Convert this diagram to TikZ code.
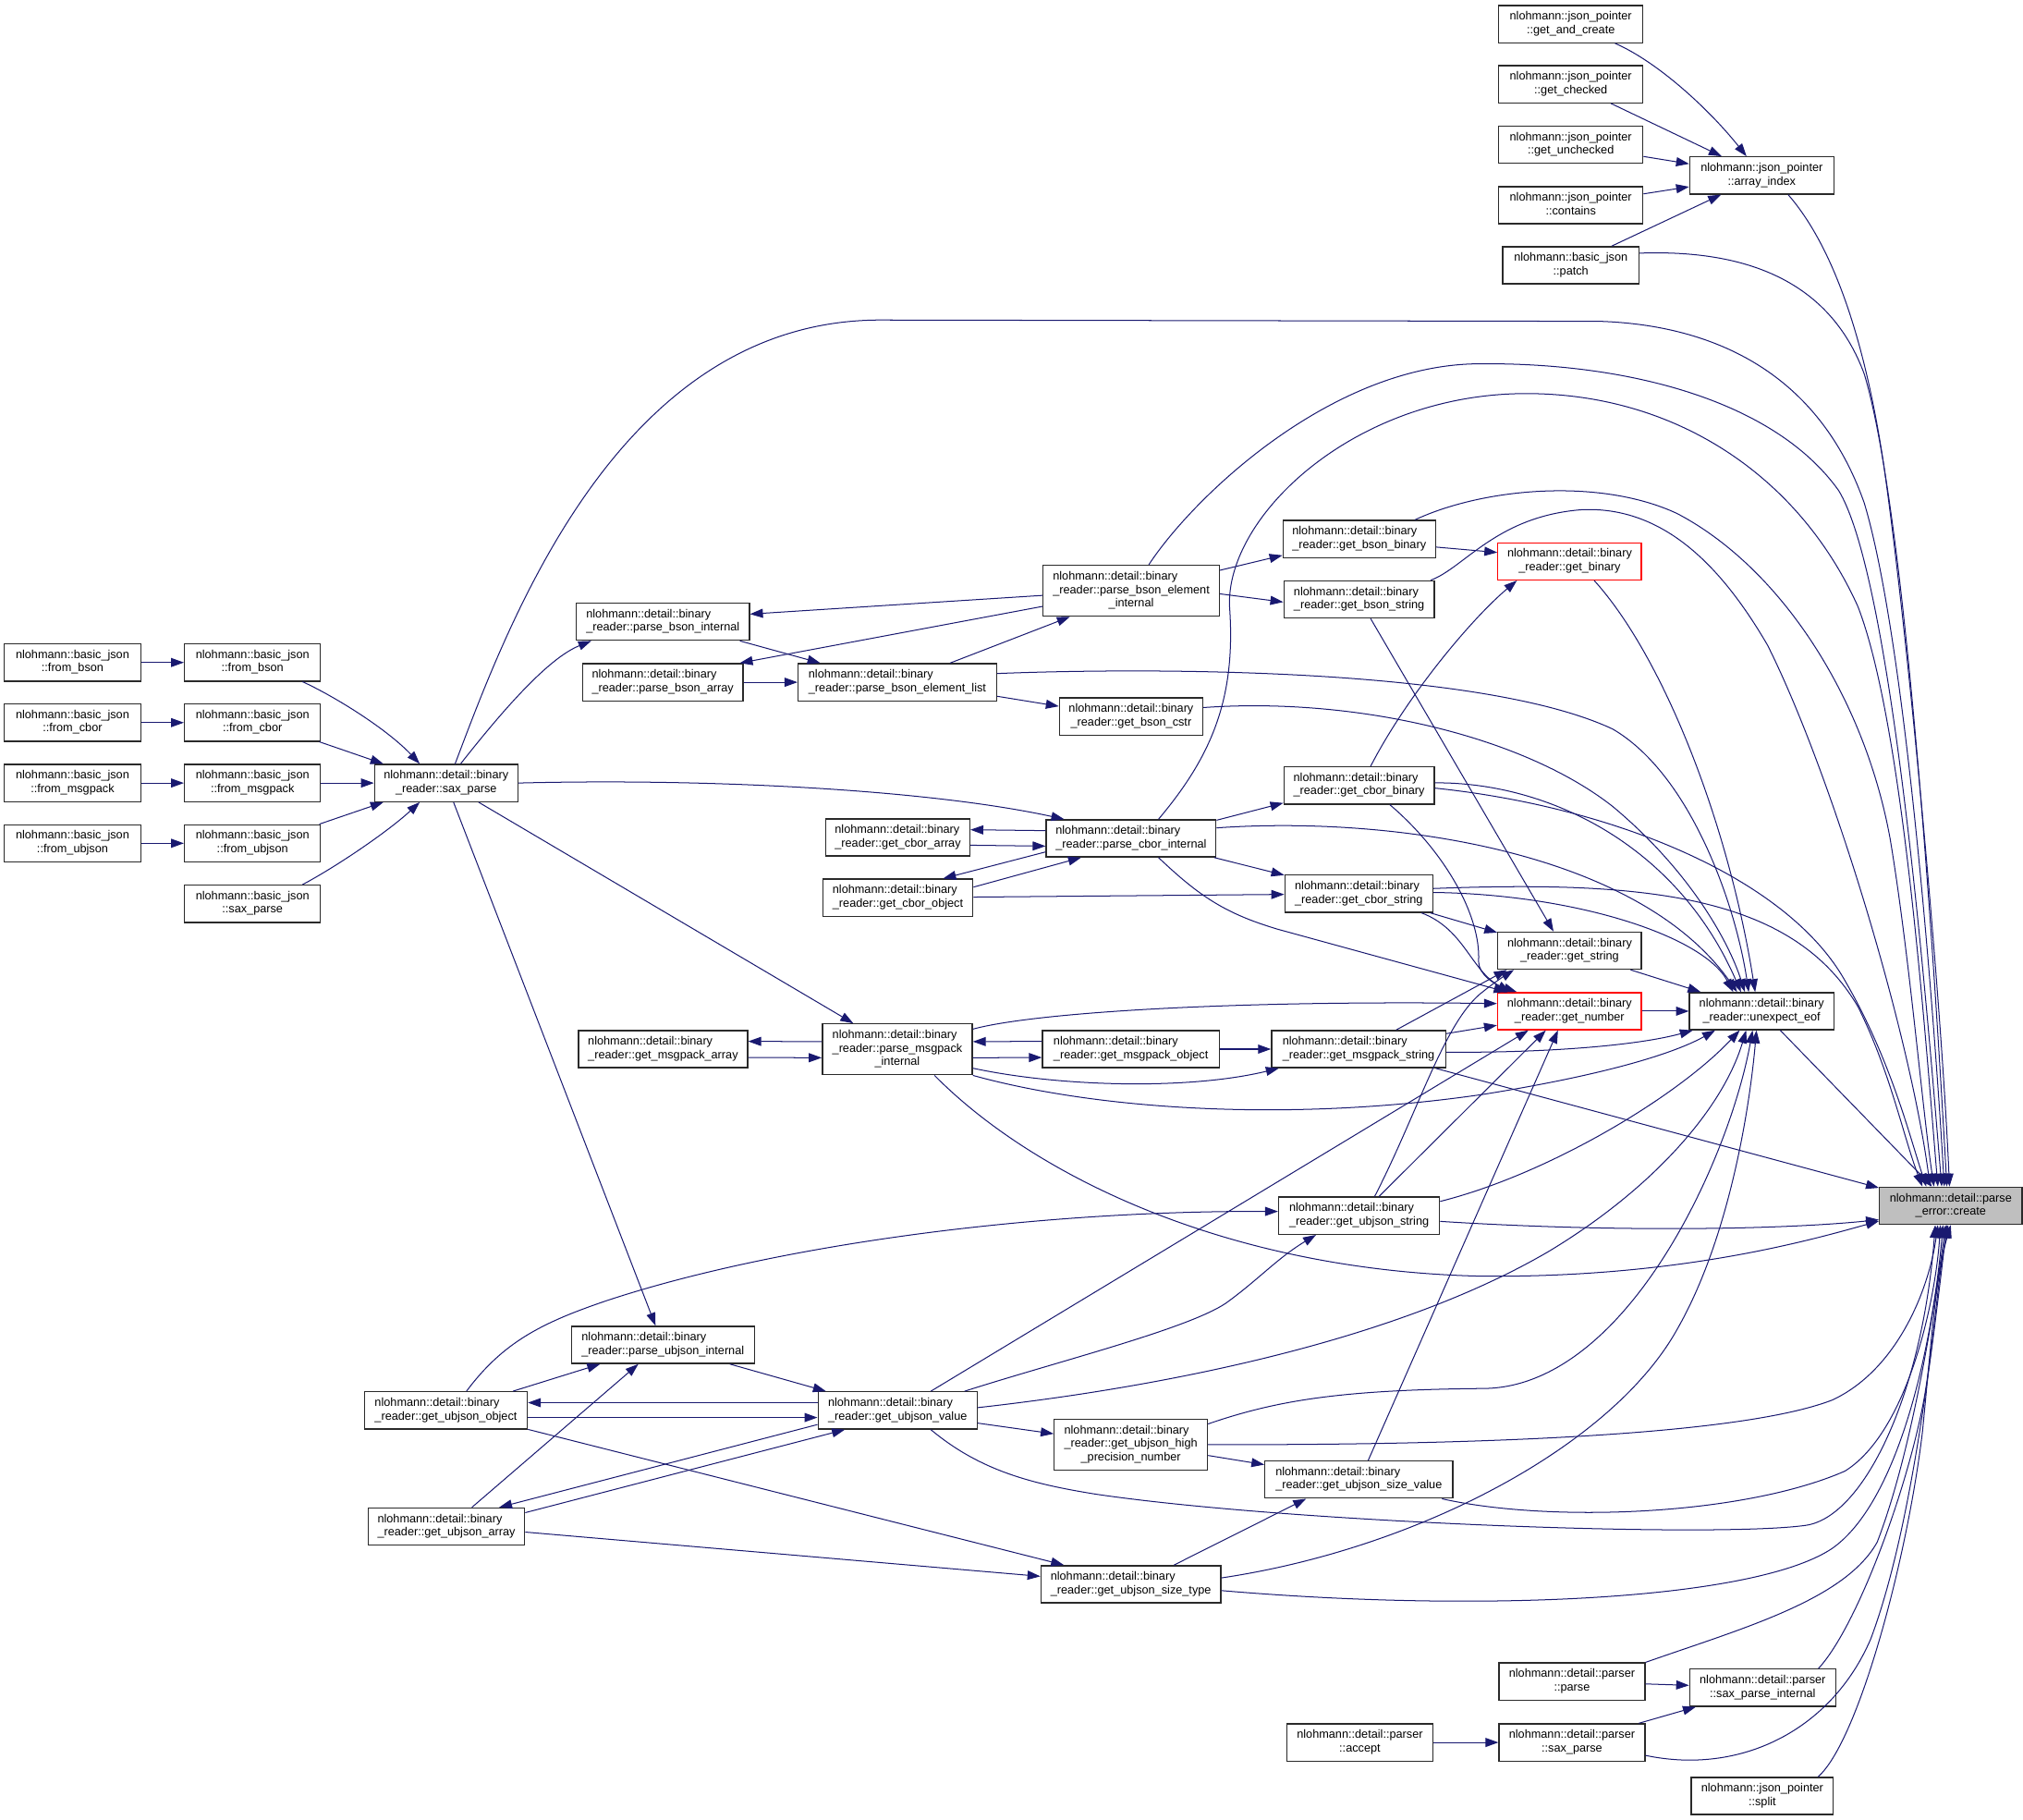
\documentclass[tikz,border=0pt]{standalone}
\usepackage{fontspec}
\setmainfont{Liberation Sans}
\usetikzlibrary{arrows.meta}
\definecolor{edgeblue}{HTML}{191970}
\definecolor{rootgray}{HTML}{BFBFBF}
\definecolor{boxline}{HTML}{2A2A2A}
\newcommand{\twol}[2]{\begin{tabular}{@{}l@{}}#1\\\multicolumn{1}{@{}c@{}}{#2}\end{tabular}}
\newcommand{\threel}[3]{\begin{tabular}{@{}l@{}}#1\\#2\\\multicolumn{1}{@{}c@{}}{#3}\end{tabular}}
\newcommand{\nlb}{nlohmann::detail::binary}
\tikzset{
  nbox/.style={draw=boxline, line width=0.95pt, fill=white, font=\fontsize{9.1}{10.4}\selectfont,
    inner xsep=2pt, inner ysep=0pt, minimum height=28.8pt, anchor=center},
  nbox3/.style={nbox, minimum height=39.4pt},
  redbox/.style={nbox, draw=red},
  rootbox/.style={nbox, fill=rootgray},
  conn/.style={draw=edgeblue, line width=0.72pt, -{Triangle[length=10pt,width=7pt]}}
}
\begin{document}
\begin{tikzpicture}[x=1pt,y=-1pt]
\fill[white] (0,0) rectangle (1568,1410.4);
\useasboundingbox (0,0) rectangle (1568,1410.4);

% ---------- nodes ----------
\node[nbox, minimum width=111.8pt] (n_gac) at (1217.5,18.7) {\twol{nlohmann::json\_pointer}{::get\_and\_create}};
\node[nbox, minimum width=111.8pt] (n_gch) at (1217.5,65.3) {\twol{nlohmann::json\_pointer}{::get\_checked}};
\node[nbox, minimum width=111.8pt] (n_gun) at (1217.5,112.2) {\twol{nlohmann::json\_pointer}{::get\_unchecked}};
\node[nbox, minimum width=111.8pt] (n_con) at (1217.5,159) {\twol{nlohmann::json\_pointer}{::contains}};
\node[nbox, minimum width=105.8pt] (n_pat) at (1217.5,205.6) {\twol{nlohmann::basic\_json}{::patch}};
\node[nbox, minimum width=111.7pt] (n_aix) at (1365.5,136) {\twol{nlohmann::json\_pointer}{::array\_index}};
\node[rootbox, minimum width=110.5pt] (n_cre) at (1512,934.4) {\twol{nlohmann::detail::parse}{\_error::create}};
\node[nbox, minimum width=111.8pt] (n_uef) at (1365.4,783.6) {\twol{\nlb}{\_reader::unexpect\_eof}};
\node[redbox, minimum width=111.5pt] (n_gnum) at (1216.5,783.6) {\twol{\nlb}{\_reader::get\_number}};
\node[nbox, minimum width=111.2pt] (n_gstr) at (1216.6,736.7) {\twol{\nlb}{\_reader::get\_string}};
\node[redbox, minimum width=111.2pt] (n_gbin) at (1216.6,435) {\twol{\nlb}{\_reader::get\_binary}};
\node[nbox, minimum width=118.1pt] (n_gbb) at (1053.5,417.7) {\twol{\nlb}{\_reader::get\_bson\_binary}};
\node[nbox, minimum width=116.6pt] (n_gbs) at (1053.4,464.5) {\twol{\nlb}{\_reader::get\_bson\_string}};
\node[nbox3, minimum width=136.6pt] (n_pbei) at (876.8,457.8) {\threel{\nlb}{\_reader::parse\_bson\_element}{\_internal}};
\node[nbox, minimum width=111.1pt] (n_gbc) at (876.7,555.2) {\twol{\nlb}{\_reader::get\_bson\_cstr}};
\node[nbox, minimum width=116.6pt] (n_gcb) at (1053.4,608.7) {\twol{\nlb}{\_reader::get\_cbor\_binary}};
\node[nbox, minimum width=131.6pt] (n_pci) at (876.7,649.7) {\twol{\nlb}{\_reader::parse\_cbor\_internal}};
\node[nbox, minimum width=114.7pt] (n_gcs) at (1053.2,692.6) {\twol{\nlb}{\_reader::get\_cbor\_string}};
\node[nbox, minimum width=134.1pt] (n_pbi) at (513.8,481.8) {\twol{\nlb}{\_reader::parse\_bson\_internal}};
\node[nbox, minimum width=124.3pt] (n_pba) at (513.7,528.7) {\twol{\nlb}{\_reader::parse\_bson\_array}};
\node[nbox, minimum width=153.8pt] (n_pbel) at (695.5,528.7) {\twol{\nlb}{\_reader::parse\_bson\_element\_list}};
\node[nbox, minimum width=111.5pt] (n_gca) at (695.9,649) {\twol{\nlb}{\_reader::get\_cbor\_array}};
\node[nbox, minimum width=116.3pt] (n_gco) at (695.9,695.7) {\twol{\nlb}{\_reader::get\_cbor\_object}};
\node[nbox, minimum width=105.6pt] (n_fb1) at (56.2,513.4) {\twol{nlohmann::basic\_json}{::from\_bson}};
\node[nbox, minimum width=105.6pt] (n_fc1) at (56.2,560) {\twol{nlohmann::basic\_json}{::from\_cbor}};
\node[nbox, minimum width=105.6pt] (n_fm1) at (56.2,606.8) {\twol{nlohmann::basic\_json}{::from\_msgpack}};
\node[nbox, minimum width=105.6pt] (n_fu1) at (56.2,653.5) {\twol{nlohmann::basic\_json}{::from\_ubjson}};
\node[nbox, minimum width=105.4pt] (n_fb2) at (195.7,513.4) {\twol{nlohmann::basic\_json}{::from\_bson}};
\node[nbox, minimum width=105.4pt] (n_fc2) at (195.7,560) {\twol{nlohmann::basic\_json}{::from\_cbor}};
\node[nbox, minimum width=105.4pt] (n_fm2) at (195.7,606.8) {\twol{nlohmann::basic\_json}{::from\_msgpack}};
\node[nbox, minimum width=105.4pt] (n_fu2) at (195.7,653.5) {\twol{nlohmann::basic\_json}{::from\_ubjson}};
\node[nbox, minimum width=105.4pt] (n_bsp) at (195.7,700.4) {\twol{nlohmann::basic\_json}{::sax\_parse}};
\node[nbox, minimum width=111pt] (n_sp) at (345.8,606.8) {\twol{\nlb}{\_reader::sax\_parse}};
\node[nbox, minimum width=131.1pt] (n_gma) at (513.9,813) {\twol{\nlb}{\_reader::get\_msgpack\_array}};
\node[nbox3, minimum width=116.2pt] (n_pmi) at (695.5,813.2) {\threel{\nlb}{\_reader::parse\_msgpack}{\_internal}};
\node[nbox, minimum width=137pt] (n_gmo) at (876.5,813) {\twol{\nlb}{\_reader::get\_msgpack\_object}};
\node[nbox, minimum width=134.9pt] (n_gms) at (1053,813) {\twol{\nlb}{\_reader::get\_msgpack\_string}};
\node[nbox, minimum width=124.7pt] (n_gus) at (1053.4,942.1) {\twol{\nlb}{\_reader::get\_ubjson\_string}};
\node[nbox3, minimum width=118.8pt] (n_ghp) at (876.5,1119.5) {\threel{\nlb}{\_reader::get\_ubjson\_high}{\_precision\_number}};
\node[nbox, minimum width=145.5pt] (n_gsv) at (1053.2,1146.6) {\twol{\nlb}{\_reader::get\_ubjson\_size\_value}};
\node[nbox, minimum width=139.3pt] (n_gst) at (876.5,1227.7) {\twol{\nlb}{\_reader::get\_ubjson\_size\_type}};
\node[nbox, minimum width=141.8pt] (n_pui) at (513.8,1042.2) {\twol{\nlb}{\_reader::parse\_ubjson\_internal}};
\node[nbox, minimum width=126.2pt] (n_guo) at (345.6,1093) {\twol{\nlb}{\_reader::get\_ubjson\_object}};
\node[nbox, minimum width=123.3pt] (n_guv) at (695.7,1093) {\twol{\nlb}{\_reader::get\_ubjson\_value}};
\node[nbox, minimum width=121.3pt] (n_gua) at (346,1183) {\twol{\nlb}{\_reader::get\_ubjson\_array}};
\node[nbox, minimum width=113.1pt] (n_ppa) at (1218.4,1303.1) {\twol{nlohmann::detail::parser}{::parse}};
\node[nbox, minimum width=113.1pt] (n_spi) at (1366.2,1307.9) {\twol{nlohmann::detail::parser}{::sax\_parse\_internal}};
\node[nbox, minimum width=113.5pt] (n_acc) at (1054,1350.3) {\twol{nlohmann::detail::parser}{::accept}};
\node[nbox, minimum width=113.1pt] (n_psp) at (1218.4,1350.3) {\twol{nlohmann::detail::parser}{::sax\_parse}};
\node[nbox, minimum width=110.2pt] (n_spl) at (1365.9,1391.8) {\twol{nlohmann::json\_pointer}{::split}};

% ---------- json_pointer group ----------
\draw[conn] (n_gac) .. controls (1285,48) and (1325,85) .. (n_aix);
\draw[conn] (n_gch) -- (n_aix);
\draw[conn] (n_gun) -- (n_aix);
\draw[conn] (n_con) -- (n_aix);
\draw[conn] (n_pat) -- (n_aix);

% ---------- into create from above ----------
\draw[conn] (n_aix.-36) .. controls (1420,190) and (1445,260) .. (1460,360) .. controls (1480,500) and (1505,780) .. ([xshift=-1pt]n_cre.north);
\draw[conn] (n_pat.10) .. controls (1360,193) and (1420,222) .. (1445,290) .. controls (1478,400) and (1500,760) .. ([xshift=-3pt]n_cre.north);
\draw[conn] (n_sp.65) .. controls (395,480) and (480,250) .. (680,248) -- (1240,249) .. controls (1330,252) and (1410,290) .. (1445,390) .. controls (1478,500) and (1500,800) .. ([xshift=-5pt]n_cre.north);
\draw[conn] (n_pbei.56) .. controls (925,385) and (1030,285) .. (1142,282) .. controls (1260,280) and (1375,310) .. (1425,380) .. controls (1468,450) and (1495,800) .. ([xshift=-7pt]n_cre.north);
\draw[conn] (n_pci.35) .. controls (940,585) and (958,540) .. (953,470) .. controls (950,400) and (1050,305) .. (1183,305) .. controls (1300,305) and (1395,370) .. (1440,470) .. controls (1475,560) and (1492,800) .. ([xshift=-10pt]n_cre.north);
\draw[conn] (n_gbb.19) .. controls (1150,378) and (1240,370) .. (1300,398) .. controls (1380,440) and (1445,540) .. (1465,650) .. controls (1480,740) and (1490,860) .. ([xshift=-13pt]n_cre.north);
\draw[conn] (n_gbs.15.5) .. controls (1135,440) and (1160,400) .. (1226,395) .. controls (1290,392) and (1335,440) .. (1370,500) .. controls (1420,600) and (1480,800) .. ([xshift=-16pt]n_cre.north);
\draw[conn] (n_gcb.-2) .. controls (1250,625) and (1385,680) .. (1430,760) .. controls (1465,820) and (1480,880) .. ([xshift=-19pt]n_cre.north);
\draw[conn] (n_gcs.4) .. controls (1280,682) and (1390,695) .. (1440,780) .. controls (1465,830) and (1475,880) .. ([xshift=-22pt]n_cre.north);

% ---------- into unexpect_eof from above ----------
\draw[conn] (n_gbin.-38) .. controls (1290,510) and (1340,640) .. ([xshift=-5pt]n_uef.north);
\draw[conn] (n_pbel.5) .. controls (900,517) and (1150,518) .. (1250,565) .. controls (1310,600) and (1345,700) .. ([xshift=-10pt]n_uef.north);
\draw[conn] (n_gbc.7.7) .. controls (1050,540) and (1180,570) .. (1250,625) .. controls (1310,675) and (1340,730) .. ([xshift=-13pt]n_uef.north);
\draw[conn] (n_gcb.2) .. controls (1200,606) and (1300,655) .. ([xshift=-16pt]n_uef.north);
\draw[conn] (n_pci.7.5) .. controls (1080,632) and (1270,660) .. ([xshift=-19pt]n_uef.north);
\draw[conn] (n_gcs.1) .. controls (1220,693) and (1320,725) .. ([xshift=-22pt]n_uef.north);
\draw[conn] (n_gstr) -- (n_uef);
\draw[conn] (n_gnum) -- (n_uef);
\draw[conn] (n_uef) -- (n_cre);

% ---------- into unexpect_eof from below ----------
\draw[conn] (n_gms.-2) .. controls (1200,816) and (1270,810) .. ([xshift=3pt]n_uef.south west);
\draw[conn] (n_pmi.south east) .. controls (850,860) and (1000,870) .. (1150,848) .. controls (1250,832) and (1300,815) .. ([xshift=-36pt]n_uef.south);
\draw[conn] (n_gus.10) .. controls (1200,910) and (1300,850) .. ([xshift=-17pt]n_uef.south);
\draw[conn] (n_guv.2) .. controls (900,1075) and (1080,1040) .. (1200,970) .. controls (1280,922) and (1335,860) .. ([xshift=-12pt]n_uef.south);
\draw[conn] (n_ghp.15.5) .. controls (990,1085) and (1040,1077) .. (1150,1076) .. controls (1260,1075) and (1340,900) .. ([xshift=-7pt]n_uef.south);
\draw[conn] (n_gst.4) .. controls (1100,1200) and (1250,1120) .. (1300,1030) .. controls (1340,960) and (1356,860) .. ([xshift=-4pt]n_uef.south);

% ---------- into get_number ----------
\draw[conn] (n_pmi.15) .. controls (800,785) and (950,775) .. (n_gnum.174);
\draw[conn] (n_gms.10) -- (n_gnum.191.5);
\draw[conn] (n_gcb.-32) .. controls (1120,660) and (1148,710) .. (1146,745) .. controls (1146,755) and (1158,763) .. (n_gnum.160.6);
\draw[conn] (n_gcs.-17) .. controls (1135,720) and (1140,752) .. (n_gnum.162);
\draw[conn] (n_pci.-35) .. controls (930,695) and (950,708) .. (990,720) -- (n_gnum.163.5);
\draw[conn] (n_guv.30) -- (n_gnum.205);
\draw[conn] (n_gus.44) -- (n_gnum.219);
\draw[conn] (n_gsv.64) -- (n_gnum.239);

% ---------- into get_string ----------
\draw[conn] (n_gbs.-59) -- (n_gstr.130);
\draw[conn] (n_gcs.-15) -- (n_gstr.166);
\draw[conn] (n_gms.27) -- (n_gstr.197);
\draw[conn] (n_gus.51) .. controls (1100,860) and (1120,790) .. (1150,768) .. controls (1160,760) and (1168,755) .. (n_gstr.199);

% ---------- into get_binary ----------
\draw[conn] (n_gbb.-6) -- (n_gbin.173);
\draw[conn] (n_gcb.59) .. controls (1090,540) and (1140,480) .. (n_gbin.200);

% ---------- bson ----------
\draw[conn] (n_pbei.13) -- (n_gbb.192);
\draw[conn] (n_pbei.-2) -- (n_gbs.182);
\draw[conn] (n_pbei.183) -- (n_pbi.5);
\draw[conn] (n_pbei.190) -- (n_pba.14);
\draw[conn] (n_pbel.20) -- (n_pbei.203);
\draw[conn] (n_pbi.-14.4) -- (n_pbel.166);
\draw[conn] (n_pba) -- (n_pbel);
\draw[conn] (n_pbel.-8) -- (n_gbc.172);

% ---------- sax_parse ----------
\draw[conn] (n_sp.53) .. controls (390,550) and (425,510) .. (n_pbi.195);
\draw[conn] (n_sp.east) .. controls (550,603) and (720,612) .. (n_pci.164);
\draw[conn] (n_sp) -- (n_pmi);
\draw[conn] (n_sp) -- (n_pui);
\draw[conn] (n_fb1) -- (n_fb2);
\draw[conn] (n_fc1) -- (n_fc2);
\draw[conn] (n_fm1) -- (n_fm2);
\draw[conn] (n_fu1) -- (n_fu2);
\draw[conn] (n_fb2.-21.5) .. controls (260,540) and (300,565) .. (n_sp.144);
\draw[conn] (n_fc2.-16.8) -- (n_sp.163);
\draw[conn] (n_fm2) -- (n_sp);
\draw[conn] (n_fu2.16.8) -- (n_sp.197);
\draw[conn] (n_bsp.21.5) .. controls (260,672) and (300,645) .. (n_sp.216);

% ---------- cbor ----------
\draw[conn] ([yshift=6pt]n_pci.west) -- ([yshift=6pt]n_gca.east);
\draw[conn] ([yshift=-6pt]n_gca.east) -- ([yshift=-6pt]n_pci.west);
\draw[conn] (n_pci.189) -- (n_gco.23);
\draw[conn] (n_gco.8.5) -- (n_pci.201.6);
\draw[conn] (n_pci.12) -- (n_gcb.193.5);
\draw[conn] (n_pci.-13.3) -- (n_gcs.166.5);
\draw[conn] (n_gco) -- (n_gcs);

% ---------- msgpack ----------
\draw[conn] ([yshift=6pt]n_pmi.west) -- ([yshift=6pt]n_gma.east);
\draw[conn] ([yshift=-6.5pt]n_gma.east) -- ([yshift=-6.5pt]n_pmi.west);
\draw[conn] ([yshift=6pt]n_gmo.west) -- ([yshift=6pt]n_pmi.east);
\draw[conn] ([yshift=-6.5pt]n_pmi.east) -- ([yshift=-6.5pt]n_gmo.west);
\draw[conn] (n_gmo) -- (n_gms);
\draw[conn] (n_pmi.-14.8) .. controls (820,842) and (920,845) .. (n_gms);
\draw[conn] (n_pmi.-35) .. controls (800,910) and (950,985) .. (1150,989) .. controls (1300,990) and (1400,962) .. (n_cre.192);
\draw[conn] (n_gms.-14.4) -- (n_cre.166);
\draw[conn] (n_gus.-4) .. controls (1250,955) and (1380,953) .. (n_cre.191);

% ---------- ubjson ----------
\draw[conn] (n_pui.-16) -- (n_guv.165);
\draw[conn] ([yshift=6pt]n_guv.west) -- ([yshift=6pt]n_guo.east);
\draw[conn] ([yshift=-5.5pt]n_guo.east) -- ([yshift=-5.5pt]n_guv.west);
\draw[conn] (n_guv.190) -- (n_gua.20);
\draw[conn] (n_gua.10) -- (n_guv.200);
\draw[conn] (n_guo.16) -- (n_pui.197);
\draw[conn] (n_gua.37) -- (n_pui.218);
\draw[conn] (n_guo.43.6) .. controls (390,1040) and (420,1025) .. (470,1008) .. controls (600,965) and (800,938) .. (n_gus.177.4);
\draw[conn] (n_guv.16) .. controls (820,1055) and (920,1030) .. (950,1010) .. controls (975,992) and (990,975) .. (n_gus.204.5);
\draw[conn] (n_guv.-9) -- (n_ghp.172);
\draw[conn] (n_guv.-30) .. controls (760,1140) and (800,1150) .. (850,1158) .. controls (1000,1180) and (1330,1192) .. (1400,1182) .. controls (1445,1175) and (1490,1080) .. ([xshift=-12pt]n_cre.south);
\draw[conn] (n_ghp.east) .. controls (1150,1120) and (1350,1112) .. (1420,1085) .. controls (1470,1062) and (1495,1000) .. ([xshift=-10pt]n_cre.south);
\draw[conn] (n_ghp.-8.7) -- (n_gsv.171);
\draw[conn] (n_gsv.-13.9) .. controls (1200,1180) and (1350,1175) .. (1430,1140) .. controls (1478,1110) and (1500,1010) .. ([xshift=-8pt]n_cre.south);
\draw[conn] (n_gst.24) -- (n_gsv.200);
\draw[conn] (n_gst.-4) .. controls (1150,1250) and (1360,1240) .. (1420,1200) .. controls (1470,1165) and (1497,1050) .. ([xshift=-6pt]n_cre.south);
\draw[conn] (n_guo.-13) -- (n_gst.164.6);
\draw[conn] (n_gua.-4.6) -- (n_gst.175);

% ---------- parser ----------
\draw[conn] (n_ppa) -- (n_spi);
\draw[conn] (n_psp) -- (n_spi);
\draw[conn] (n_acc) -- (n_psp);
\draw[conn] (n_ppa.north east) .. controls (1350,1262) and (1430,1240) .. (1455,1195) .. controls (1480,1130) and (1497,1030) .. ([xshift=-4pt]n_cre.south);
\draw[conn] (n_spi.19.6) .. controls (1440,1260) and (1480,1150) .. (1492,1080) .. controls (1500,1030) and (1502,990) .. ([xshift=-2pt]n_cre.south);
\draw[conn] (n_psp.-10.8) .. controls (1350,1376) and (1420,1340) .. (1450,1270) .. controls (1480,1190) and (1496,1060) .. ([xshift=-3pt]n_cre.south);
\draw[conn] (n_spl.19) .. controls (1440,1350) and (1478,1210) .. (1490,1110) .. controls (1497,1040) and (1500,990) .. (n_cre.south);
\end{tikzpicture}
\end{document}
